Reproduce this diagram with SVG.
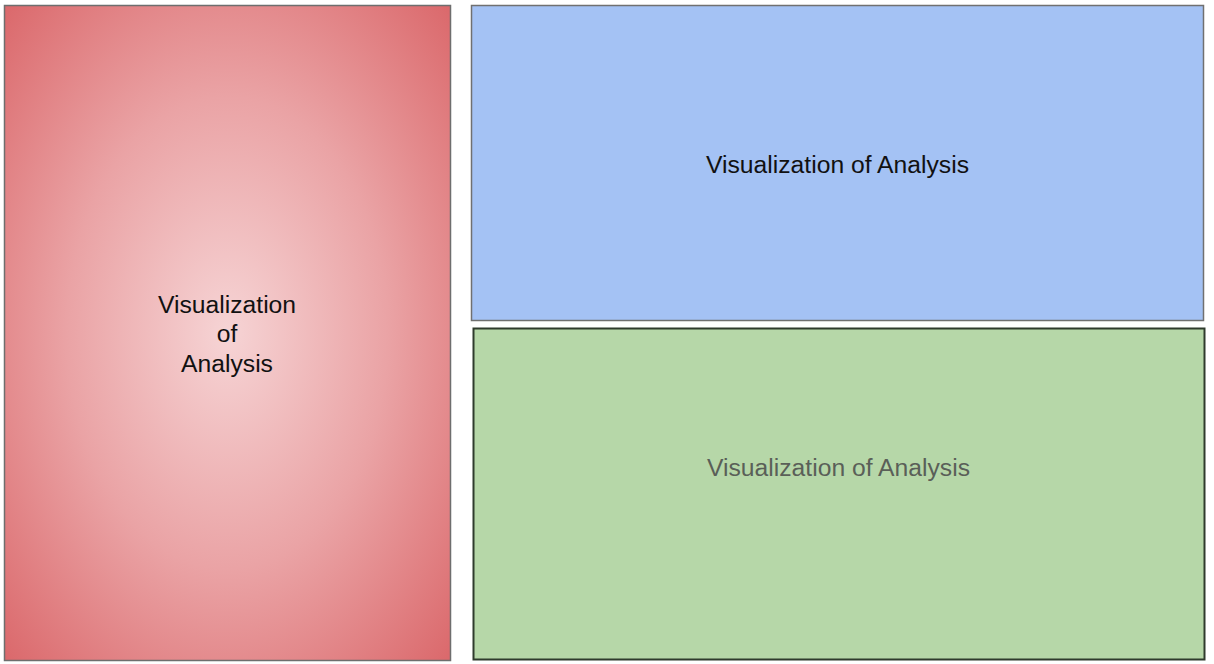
<svg xmlns="http://www.w3.org/2000/svg" width="1214" height="664" viewBox="0 0 1214 664">
  <style>
    .label { font-family: "Liberation Sans", Arial, sans-serif; font-size: 24.7px; text-anchor: middle; }
  </style>
  <defs>
    <radialGradient id="redGlow" cx="0.5" cy="0.5" r="0.72">
      <stop offset="0" stop-color="#f6d4d5"/>
      <stop offset="0.5" stop-color="#eaa3a5"/>
      <stop offset="1" stop-color="#da6669"/>
    </radialGradient>
  </defs>
  <rect width="1214" height="664" fill="#ffffff"/>
  <g id="node-left">
    <rect x="4.5" y="5.5" width="446" height="655" fill="url(#redGlow)" stroke="#6e6e6e" stroke-width="1.5"/>
    <text class="label" x="227" y="313" fill="#111">Visualization</text>
    <text class="label" x="227" y="342" fill="#111">of</text>
    <text class="label" x="227" y="372" fill="#111">Analysis</text>
  </g>
  <g id="node-top-right">
    <rect x="471.5" y="5.5" width="732" height="315" fill="#a4c2f4" stroke="#707070" stroke-width="1.5"/>
    <text class="label" x="837.5" y="173" fill="#111">Visualization of Analysis</text>
  </g>
  <g id="node-bottom-right">
    <rect x="473.5" y="328.5" width="731" height="331" fill="#b6d7a8" stroke="#2f3b2d" stroke-width="2"/>
    <text class="label" x="838.5" y="476" fill="#5a5f58">Visualization of Analysis</text>
  </g>
  <g id="connectors"/>
</svg>
